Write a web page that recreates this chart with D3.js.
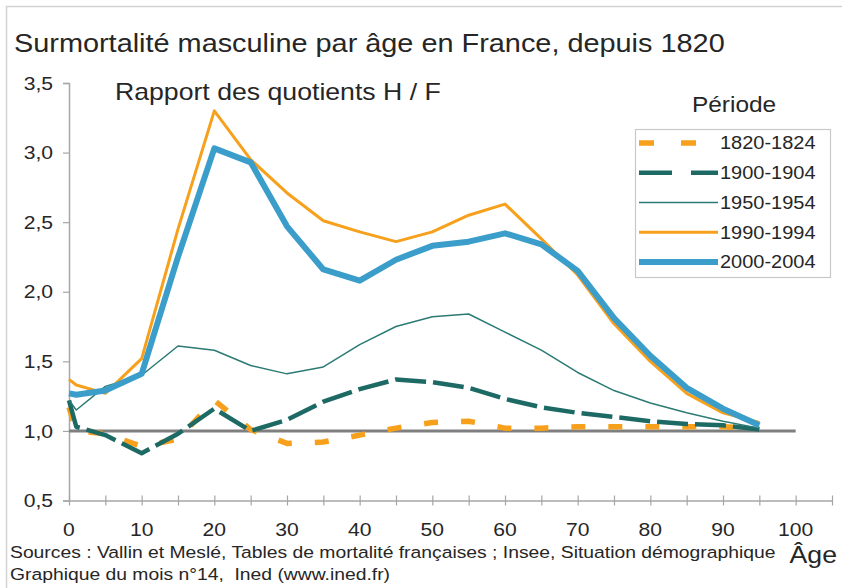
<!DOCTYPE html>
<html lang="fr">
<head>
	<meta charset="utf-8">
	<script src="https://d3js.org/d3.v7.min.js"></script>
	<style type="text/css">
		body { margin: 0; background: #fff; }
		text { font-family: "Liberation Sans", Arial, sans-serif; fill: #262626; white-space: pre; }
		.line { fill: none; stroke-linejoin: round; }
	</style>
	<title>Surmortalité masculine</title>
</head>
<body>
	<svg id="chart" width="842" height="588"></svg>

<script type="text/javascript">

	// ages (abscisses) et rapports H/F
	var ages = [0, 1, 5, 10, 15, 20, 25, 30, 35, 40, 45, 50, 55, 60, 65, 70, 75, 80, 85, 90, 95];

	var p1820 = [1.17, 1.00, 0.98, 0.89, 0.94, 1.22, 1.01, 0.91, 0.92, 0.97, 1.02, 1.06, 1.07, 1.02, 1.02, 1.03, 1.03, 1.03, 1.03, 1.03, 1.02];
	var p1900 = [1.22, 1.03, 0.97, 0.84, 0.98, 1.16, 1.00, 1.08, 1.21, 1.30, 1.37, 1.35, 1.31, 1.23, 1.17, 1.13, 1.10, 1.07, 1.05, 1.04, 1.01];
	var p1950 = [1.22, 1.15, 1.32, 1.40, 1.61, 1.58, 1.47, 1.41, 1.46, 1.62, 1.75, 1.82, 1.84, 1.71, 1.58, 1.42, 1.29, 1.20, 1.13, 1.07, 1.02];
	var p1990 = [1.37, 1.33, 1.27, 1.52, 2.45, 3.30, 2.95, 2.71, 2.51, 2.43, 2.36, 2.43, 2.55, 2.63, 2.38, 2.12, 1.77, 1.50, 1.27, 1.13, 1.06];
	var p2000 = [1.27, 1.26, 1.29, 1.41, 2.25, 3.03, 2.93, 2.47, 2.16, 2.08, 2.23, 2.33, 2.36, 2.42, 2.34, 2.15, 1.81, 1.54, 1.31, 1.16, 1.04];

	var periodes = ["1820-1824", "1900-1904", "1950-1954", "1990-1994", "2000-2004"];
	var yTicks = [0.5, 1.0, 1.5, 2.0, 2.5, 3.0, 3.5];
	var xLabels = [0, 10, 20, 30, 40, 50, 60, 70, 80, 90, 100];
	var xTicks = d3.range(0, 106, 5);

	var series = [
		{name: periodes[0], values: p1820, color: "#f7a01c", width: 5.5, dash: "14,23", legendDash: "15,27"},
		{name: periodes[1], values: p1900, color: "#1d6a64", width: 4.5, dash: "31,7", legendDash: "33,19"},
		{name: periodes[2], values: p1950, color: "#2b7a73", width: 1.5, dash: null, legendDash: null},
		{name: periodes[3], values: p1990, color: "#f7a01c", width: 3, dash: null, legendDash: null},
		{name: periodes[4], values: p2000, color: "#3b9dc9", width: 6, dash: null, legendDash: null}
	];

	var svg = d3.select("#chart");

	// cadre
	svg.append("rect")
		.attr("x", 6.5).attr("y", 6.5)
		.attr("width", 860).attr("height", 600)
		.attr("fill", "none")
		.attr("stroke", "#d2d2d2")
		.attr("stroke-width", 1.5);

	var x = d3.scaleLinear().domain([0, 105]).range([69, 832]);
	var y = d3.scaleLinear().domain([0.5, 3.5]).range([500.5, 83]);

	function label(str, px, py, size, anchor) {
		return svg.append("text")
			.attr("x", px).attr("y", py)
			.attr("text-anchor", anchor || "start")
			.style("font-size", size + "px")
			.text(str);
	}

	// titres
	label("Surmortalité masculine par âge en France, depuis 1820", 14, 52, 26);
	label("Rapport des quotients H / F", 115, 100, 24);
	label("Période", 692, 112, 22);

	// axe Y
	var yAxis = svg.append("g")
		.attr("transform", "translate(" + x(0) + ",0)")
		.call(d3.axisLeft(y).tickValues(yTicks).tickSize(6)
			.tickFormat(function(d) { return d3.format(".1f")(d).replace(".", ","); }));
	yAxis.select(".domain").attr("stroke", "#a6a6a6").attr("stroke-width", 1.5);
	yAxis.selectAll(".tick line").attr("stroke", "#a6a6a6").attr("stroke-width", 1.2);
	yAxis.selectAll(".tick text").attr("x", -16).style("font-size", "19px").style("font-family", null);

	// axe X
	var xAxis = svg.append("g")
		.attr("transform", "translate(0," + y(0.5) + ")")
		.call(d3.axisBottom(x).tickValues(xTicks).tickSize(0).tickFormat(""));
	xAxis.select(".domain").attr("stroke", "#a6a6a6").attr("stroke-width", 1.5);
	xAxis.selectAll(".tick line").attr("y1", -5).attr("y2", 5).attr("stroke", "#a6a6a6").attr("stroke-width", 1.2);

	svg.append("g").selectAll("text")
		.data(xLabels)
		.enter().append("text")
		.attr("x", function(d) { return x(d); })
		.attr("y", 536)
		.attr("text-anchor", "middle")
		.style("font-size", "19px")
		.text(function(d) { return d; });

	// ligne de référence H = F
	svg.append("line")
		.attr("x1", x(0)).attr("x2", x(100))
		.attr("y1", y(1)).attr("y2", y(1))
		.attr("stroke", "#7f7f7f")
		.attr("stroke-width", 3);

	// courbes
	var line = d3.line()
		.x(function(d) { return x(d.age); })
		.y(function(d) { return y(d.v); });

	svg.append("g").selectAll("path")
		.data(series)
		.enter().append("path")
		.attr("class", "line")
		.attr("d", function(s) {
			return line(s.values.map(function(v, i) { return {age: ages[i], v: v}; }));
		})
		.attr("stroke", function(s) { return s.color; })
		.attr("stroke-width", function(s) { return s.width; })
		.attr("stroke-dasharray", function(s) { return s.dash; });

	// légende
	var legY = d3.scalePoint().domain(periodes).range([143, 262]);

	svg.append("rect")
		.attr("x", 635.5).attr("y", 129.5)
		.attr("width", 195).attr("height", 148)
		.attr("fill", "#fff")
		.attr("stroke", "#c8c8c8")
		.attr("stroke-width", 1.2);

	var leg = svg.append("g").selectAll("g")
		.data(series)
		.enter().append("g")
		.attr("transform", function(s) { return "translate(0," + legY(s.name) + ")"; });

	leg.append("line")
		.attr("x1", 639).attr("x2", 718)
		.attr("stroke", function(s) { return s.color; })
		.attr("stroke-width", function(s) { return s.width; })
		.attr("stroke-dasharray", function(s) { return s.legendDash; });

	leg.append("text")
		.attr("x", 720)
		.attr("dy", "0.35em")
		.style("font-size", "18px")
		.text(function(s) { return s.name; });

	// axe et sources
	label("Âge", 837, 563, 24, "end");
	label("Sources : Vallin et Meslé, Tables de mortalité françaises ; Insee, Situation démographique", 10, 558, 17.4);
	label("Graphique du mois n°14,  Ined (www.ined.fr)", 10, 580, 17.4);

	// le rendu d'origine est légèrement étiré en largeur
	svg.selectAll("text").each(function() {
		var t = d3.select(this);
		t.attr("textLength", this.getComputedTextLength() * 1.11)
			.attr("lengthAdjust", "spacingAndGlyphs");
	});

</script>
</body>
</html>
